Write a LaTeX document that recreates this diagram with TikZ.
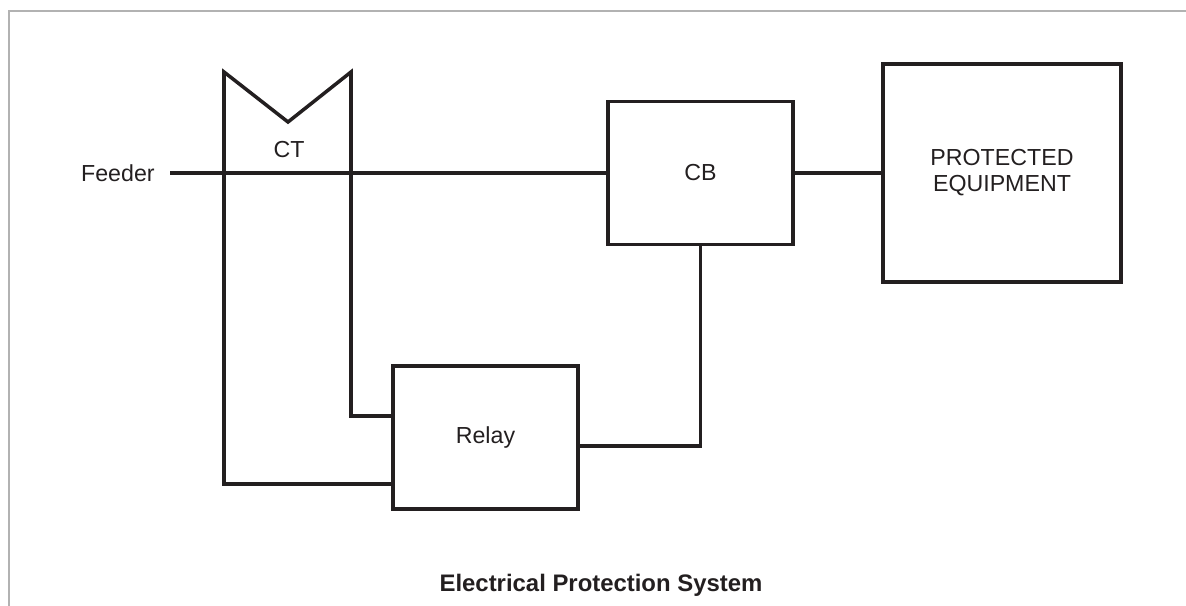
\documentclass[tikz,border=0pt]{standalone}
\usepackage{fontspec}
\setmainfont{Liberation Sans}
\usetikzlibrary{positioning}
\definecolor{ink}{HTML}{231F20}

\begin{document}
\begin{tikzpicture}[
    font=\fontsize{13.2}{14.7}\selectfont,
    wire/.style={draw=ink, line width=2pt},
    box/.style={wire, minimum width=3.7cm, minimum height=2.86cm, align=center, text=ink},
    bigbox/.style={box, minimum width=4.76cm, minimum height=4.36cm},
    lbl/.style={text=ink, inner sep=0pt}
]
\useasboundingbox (0,0) rectangle (23.72,12.12);
\draw[gray!60, line width=0.8pt] (0.18,0) -- (0.18,11.9) -- (23.72,11.9);

\node[box] (cb) at (14.01,8.66) {CB};
\node[box] (relay) at (9.71,3.37) {Relay};
\node[bigbox] (pe) at (20.04,8.66) {PROTECTED\\EQUIPMENT};
\node[lbl, anchor=east, inner xsep=0.3cm] (feeder) at (3.40,8.66) {Feeder};
\node[lbl] (ct) at (5.78,9.12) {CT};
\node[lbl, font=\fontsize{13.6}{15}\selectfont\bfseries] (title) at (12.02,0.42) {Electrical Protection System};

% current transformer
\draw[wire] ([yshift=-0.93cm]relay.west) -| (4.48,10.68) -- (5.76,9.68) -- (7.02,10.68) |- ([yshift=0.43cm]relay.west);

\draw[wire] (feeder.east) -- (cb.west);
\draw[wire] (cb.east) -- (pe.west);
\draw[wire] (cb.south) |- ([yshift=-0.17cm]relay.east);
\end{tikzpicture}
\end{document}
